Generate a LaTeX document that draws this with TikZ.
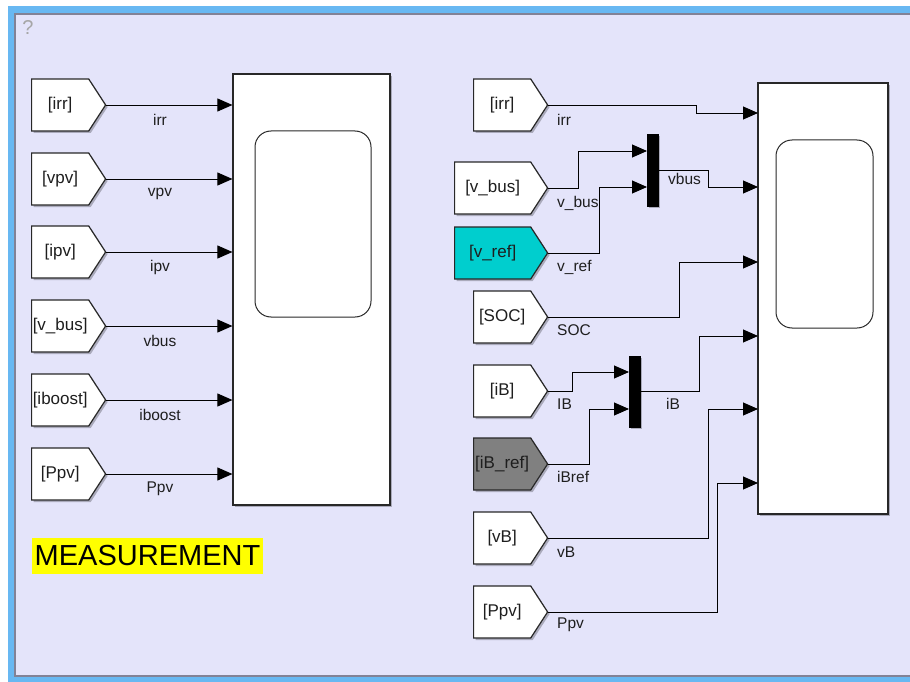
\documentclass[tikz,border=0pt]{standalone}
\usepackage{fontspec}
\setmainfont{Liberation Sans}
\usetikzlibrary{shapes.symbols,arrows.meta,shadows}
\definecolor{bgc}{RGB}{228,228,250}
\definecolor{framec}{RGB}{104,184,242}
\definecolor{edgec}{RGB}{130,130,150}
\definecolor{blkc}{RGB}{40,40,40}
\definecolor{txtc}{RGB}{30,30,30}
\definecolor{cyanblk}{RGB}{0,206,206}
\definecolor{grayblk}{RGB}{128,128,128}
\definecolor{hly}{RGB}{255,255,0}
\tikzset{
  shad/.style={drop shadow={shadow xshift=2pt,shadow yshift=-2pt,opacity=0.25,fill=black}},
  goto/.style={shape=signal, signal to=east, signal pointer angle=114,
    minimum width=74pt, minimum height=52pt, inner sep=0pt, anchor=west,
    draw=blkc, line width=1.2pt, fill=white, text=txtc,
    font=\fontsize{17}{20}\selectfont, shad},
  widegoto/.style={goto, minimum width=93pt},
  scope/.style={draw=blkc, line width=1.2pt, fill=white, inner sep=0pt, shad},
  screen/.style={draw=blkc, line width=1pt, fill=white, rounded corners=16pt, inner sep=0pt},
  mux/.style={fill=black, draw=black, inner sep=0pt, minimum width=11pt, shad},
  sig/.style={draw=black, line width=0.9pt, -{Triangle[length=15pt,width=13pt]}},
  lab/.style={text=txtc, font=\fontsize{15.5}{18}\selectfont, inner sep=0pt},
}
\begin{document}
\begin{tikzpicture}[x=1pt,y=-1pt]
\useasboundingbox (0,0) rectangle (910,682);
% frame
\fill[framec] (8,6) rectangle (930,700);
\filldraw[fill=bgc, draw=edgec, line width=1.2pt] (15,14) rectangle (940,676);
\node[text=gray!70, font=\fontsize{20}{22}\selectfont, inner sep=0pt] (q) at (28,28) {?};

% ---------- left part ----------
\node[scope, minimum width=157pt, minimum height=431pt] (ls) at (311.5,289.5) {};
\node[screen, minimum width=116pt, minimum height=186pt] (lscr) at (313,224) {};
\foreach \n/\y/\t/\l in {1/105/{[irr]}/irr, 2/179/{[vpv]}/vpv, 3/252/{[ipv]}/ipv,
    4/326/{[v\_bus]}/vbus, 5/400/{[iboost]}/iboost, 6/474/{[Ppv]}/Ppv}{
  \node[goto] (l\n) at (31,\y) {\t};
  \draw[sig] (l\n.east) -- (l\n.east -| ls.west);
  \node[lab] (ll\n) at (160,\y+15) {\l};
}
\node[fill=hly, inner xsep=2pt, inner ysep=3pt, minimum width=231pt, minimum height=36pt,
  font=\fontsize{29}{32}\selectfont, text=black] (meas) at (147.5,556) {MEASUREMENT};

% ---------- right part ----------
\node[scope, minimum width=130pt, minimum height=431pt] (rs) at (823,298.5) {};
\node[screen, minimum width=97pt, minimum height=188pt] (rscr) at (824.5,234) {};
\coordinate (p1) at (758,113);
\coordinate (p2) at (758,187);
\coordinate (p3) at (758,262);
\coordinate (p4) at (758,336);
\coordinate (p5) at (758,409);
\coordinate (p6) at (758,483);

\node[goto] (r1) at (473,105) {[irr]};
\node[widegoto] (r2) at (454,188) {[v\_bus]};
\node[widegoto, fill=cyanblk] (r3) at (454,253) {[v\_ref]};
\node[goto] (r4) at (473,317) {[SOC]};
\node[goto] (r5) at (473,391) {[iB]};
\node[goto, fill=grayblk] (r6) at (473,464) {[iB\_ref]};
\node[goto] (r7) at (473,538) {[vB]};
\node[goto] (r8) at (473,612) {[Ppv]};

\node[mux, minimum height=72pt] (m1) at (652.5,170) {};
\node[mux, minimum height=71pt] (m2) at (634.5,391.5) {};
\coordinate (m1a) at (647,151);
\coordinate (m1b) at (647,187);
\coordinate (m2a) at (629,372);
\coordinate (m2b) at (629,409);

\draw[sig] (r1.east) -| (696,113) -- (p1);
\draw[sig] (r2.east) -| (578,151) -- (m1a);
\draw[sig] (r3.east) -| (599,187) -- (m1b);
\draw[sig] (m1.east) -| (708,187) -- (p2);
\draw[sig] (r4.east) -| (679,262) -- (p3);
\draw[sig] (r5.east) -| (572,372) -- (m2a);
\draw[sig] (r6.east) -| (589,409) -- (m2b);
\draw[sig] (m2.east) -| (699,336) -- (p4);
\draw[sig] (r7.east) -| (708,409) -- (p5);
\draw[sig] (r8.east) -| (717,483) -- (p6);

\node[lab, anchor=west] (t1) at (557,120) {irr};
\node[lab, anchor=west] (t2) at (557,203) {v\_bus};
\node[lab, anchor=west] (t3) at (557,267) {v\_ref};
\node[lab, anchor=west] (t4) at (557,330) {SOC};
\node[lab, anchor=west] (t5) at (557,404) {IB};
\node[lab, anchor=west] (t6) at (557,477) {iBref};
\node[lab, anchor=west] (t7) at (557,552) {vB};
\node[lab, anchor=west] (t8) at (557,625) {Ppv};
\node[lab, anchor=west] (t9) at (668,179) {vbus};
\node[lab, anchor=west] (t10) at (666,404) {iB};
\end{tikzpicture}
\end{document}
